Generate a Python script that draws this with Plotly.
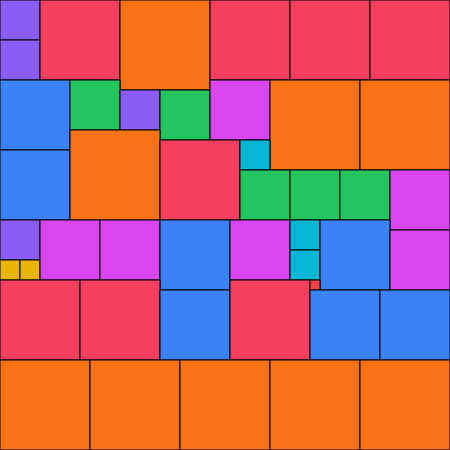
import plotly.graph_objects as go

# square packing: left, top, side (in chart units), colour group
lefts = [0, 0, 40, 120, 210, 290, 370,
         0, 70, 120, 160, 210, 270, 360,
         0, 70, 160, 240, 240, 290, 340, 390,
         0, 0, 20, 40, 100, 160, 230, 290, 290, 320, 390,
         0, 80, 160, 230, 310, 310, 380,
         0, 90, 180, 270, 360]
tops = [0, 40, 0, 0, 0, 0, 0,
        80, 80, 90, 90, 80, 80, 80,
        150, 130, 140, 140, 170, 170, 170, 170,
        220, 260, 260, 220, 220, 220, 220, 220, 250, 220, 230,
        280, 280, 290, 280, 280, 290, 290,
        360, 360, 360, 360, 360]
sides = [40, 40, 80, 90, 80, 80, 80,
         70, 50, 40, 50, 60, 90, 90,
         70, 90, 80, 30, 50, 50, 50, 60,
         40, 20, 20, 60, 60, 70, 60, 30, 30, 70, 60,
         80, 80, 70, 80, 10, 70, 70,
         90, 90, 90, 90, 90]
groups = ["purple", "purple", "rose", "orange", "rose", "rose", "rose",
          "blue", "green", "purple", "green", "fuchsia", "orange", "orange",
          "blue", "orange", "rose", "cyan", "green", "green", "green", "fuchsia",
          "purple", "yellow", "yellow", "fuchsia", "fuchsia", "blue", "fuchsia", "cyan", "cyan", "blue", "fuchsia",
          "rose", "rose", "blue", "rose", "red", "blue", "blue",
          "orange", "orange", "orange", "orange", "orange"]

palette = {"purple": "#8b5cf6", "rose": "#f43f5e", "orange": "#f97316", "blue": "#3b82f6",
           "green": "#22c55e", "fuchsia": "#d946ef", "cyan": "#06b6d4", "yellow": "#eab308",
           "red": "#ef4444"}

fig = go.Figure()
for l, t, s, g in zip(lefts, tops, sides, groups):
    fig.add_shape(type="rect", xref="x", yref="y", x0=l, x1=l + s, y0=t, y1=t + s,
                  fillcolor=palette[g], line=dict(color="#000000", width=1), layer="above")

fig.add_trace(go.Scatter(x=[0, 450], y=[0, 450], mode="markers", marker=dict(opacity=0),
                         hoverinfo="skip", showlegend=False))
fig.update_xaxes(range=[0, 450], visible=False, fixedrange=True)
fig.update_yaxes(range=[450, 0], visible=False, fixedrange=True)
fig.update_layout(width=450, height=450, margin=dict(l=0, r=0, t=0, b=0),
                  paper_bgcolor="white", plot_bgcolor="white", showlegend=False)
fig.write_html("out.html", config={"displayModeBar": False},
               post_script="document.body.style.margin='0';document.body.style.overflow='hidden';")
